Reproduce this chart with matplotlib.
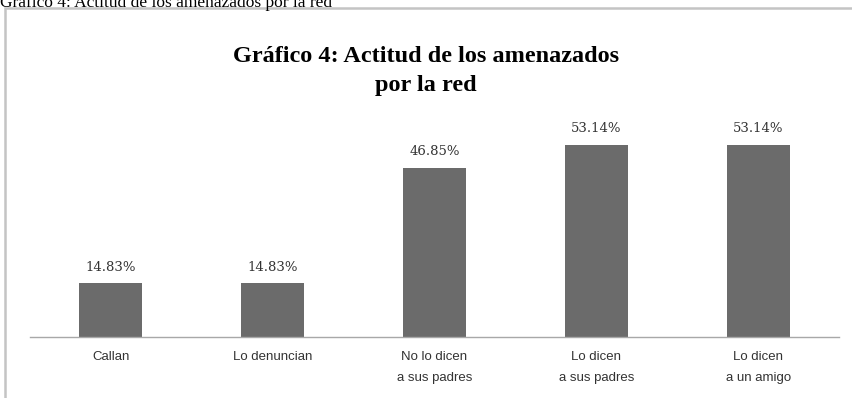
import matplotlib
matplotlib.use("Agg")
import matplotlib.pyplot as plt
from matplotlib.patches import Rectangle

categories = ["Callan", "Lo denuncian", "No lo dicen\na sus padres", "Lo dicen\na sus padres", "Lo dicen\na un amigo"]
values = [14.83, 14.83, 46.85, 53.14, 53.14]
value_labels = ["14.83%", "14.83%", "46.85%", "53.14%", "53.14%"]

W, H = 852, 398
fig = plt.figure(figsize=(W / 100, H / 100), dpi=100)
fig.patch.set_facecolor("white")

# outer chart border (only left and top visible)
fig.patches.append(Rectangle((5 / W, -0.1), 1.2, (H - 8) / H + 0.1, transform=fig.transFigure,
                             fill=False, edgecolor="#c4c4c4", linewidth=1.8, zorder=0))

# caption partly cut off at the top, as in the source
fig.text(0 / W, 1 - 7 / H, "Gráfico 4: Actitud de los amenazados por la red", family="Liberation Serif",
         fontsize=12.5, ha="left", va="baseline", color="black")

ax = fig.add_axes([30 / W, (H - 337) / H, (839 - 30) / W, (337 - 110) / H])
x = list(range(len(categories)))
ax.bar(x, values, width=0.39, color="#6b6b6b", zorder=2)
ax.set_xlim(-0.5, 4.5)
ax.set_ylim(0, 62.8)
for s in ["top", "right", "left"]:
    ax.spines[s].set_visible(False)
ax.spines["bottom"].set_color("#a8a8a8")
ax.spines["bottom"].set_linewidth(1.0)
ax.set_yticks([])
ax.set_xticks(x)
ax.set_xticklabels(categories, family="Liberation Sans", fontsize=9.5, color="#333333", linespacing=2.0)
ax.tick_params(axis="x", length=0, pad=10)
for xi, v, lab in zip(x, values, value_labels):
    ax.annotate(lab, (xi, v), xytext=(0, 7), textcoords="offset points", ha="center", va="bottom",
                fontsize=9.5, color="#333333", family="DejaVu Serif")

fig.text(426 / W, 1 - 62 / H, "Gráfico 4: Actitud de los amenazados",
         family="Liberation Serif", fontweight="bold", fontsize=17.5, ha="center", va="baseline")
fig.text(426 / W, 1 - 91 / H, "por la red",
         family="Liberation Serif", fontweight="bold", fontsize=17.5, ha="center", va="baseline")

fig.savefig("out.png", dpi=100, facecolor="white")
